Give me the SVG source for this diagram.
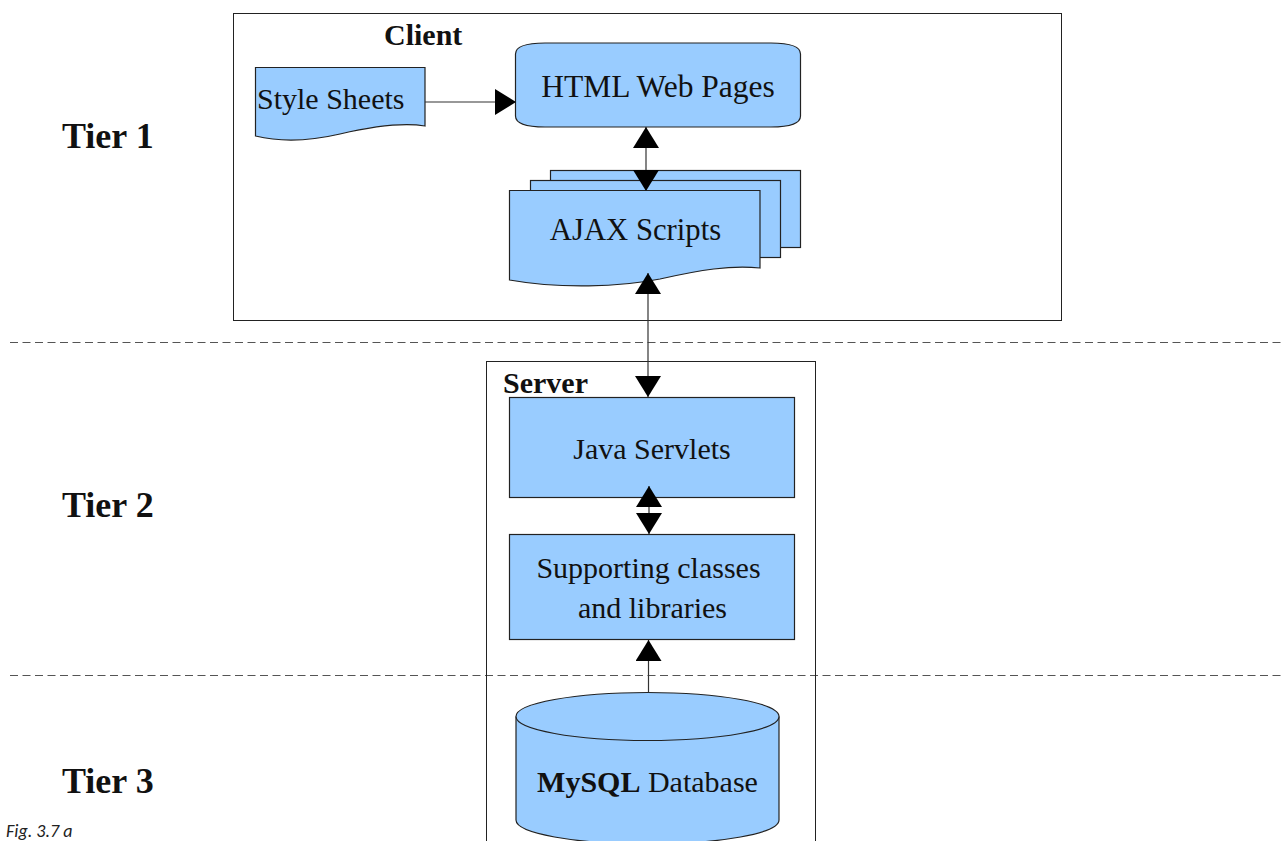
<svg xmlns="http://www.w3.org/2000/svg" width="1285" height="841" viewBox="0 0 1285 841">
<style>
.shape{fill:#99ccff;stroke:#222;stroke-width:1.2}
.frame{fill:none;stroke:#222;stroke-width:1}
.t{font-family:"Liberation Serif","Times New Roman",serif;font-size:30px;fill:#111}
.b{font-weight:bold}
.tier{font-family:"Liberation Serif","Times New Roman",serif;font-size:36px;font-weight:bold;fill:#111}
.dash{stroke:#555;stroke-width:1.2;stroke-dasharray:8 4.5;fill:none}
.conn{stroke:#333;stroke-width:1.2;fill:none}
</style>
<defs>
<marker id="ah" markerUnits="userSpaceOnUse" markerWidth="22" markerHeight="26" refX="21" refY="13" orient="auto-start-reverse">
<path d="M0,0 L21,13 L0,26 Z" fill="#000"/>
</marker>
</defs>
<rect width="1285" height="841" fill="#fff"/>

<g id="separators">
<line class="dash" x1="10" y1="342.5" x2="1285" y2="342.5"/>
<line class="dash" x1="10" y1="675.5" x2="1285" y2="675.5"/>
</g>

<g id="tiers">
<text class="tier" x="62" y="148">Tier 1</text>
<text class="tier" x="62" y="517">Tier 2</text>
<text class="tier" x="62" y="793">Tier 3</text>
</g>

<g id="client">
<rect class="frame" x="233.5" y="13.5" width="828" height="307"/>
<text class="t b" x="384" y="45">Client</text>
</g>

<g id="server">
<rect class="frame" x="486.5" y="361.5" width="329" height="500"/>
<text class="t b" x="503" y="393">Server</text>
</g>

<g id="style-sheets">
<path class="shape" d="M255.5,67.5 H425 V126 C400,122 370,127 340,134 C310,141 280,142 255.5,136 Z"/>
<text class="t" x="257" y="109">Style Sheets</text>
</g>

<g id="html-pages">
<path class="shape" d="M515.5,54 C515.5,46 528,43 545,43 H771 C788,43 800.5,46 800.5,54 V116 C800.5,124 788,127 771,127 H545 C528,127 515.5,124 515.5,116 Z"/>
<text class="t" x="658" y="97" text-anchor="middle" style="font-size:31.5px">HTML Web Pages</text>
</g>

<g id="ajax-scripts">
<rect class="shape" x="550.5" y="170.5" width="250" height="77"/>
<rect class="shape" x="530.5" y="180.5" width="250" height="77"/>
<path class="shape" d="M509.5,190.5 H760 V268 C730,265 700,270 660,279 C620,287 560,289 509.5,280 Z"/>
<text class="t" x="635.5" y="240" text-anchor="middle" style="font-size:30.7px">AJAX Scripts</text>
</g>

<g id="java-servlets">
<rect class="shape" x="509.5" y="397.5" width="285" height="100"/>
<text class="t" x="652" y="459" text-anchor="middle">Java Servlets</text>
</g>

<g id="supporting">
<rect class="shape" x="509.5" y="534.5" width="285" height="105"/>
<text class="t" x="648.5" y="578" text-anchor="middle">Supporting classes</text>
<text class="t" x="652.5" y="618" text-anchor="middle">and libraries</text>
</g>

<g id="database">
<path class="shape" d="M516,716.5 V820 A131.5,24 0 0 0 779,820 V716.5"/>
<ellipse class="shape" cx="647.5" cy="716.5" rx="131.5" ry="24"/>
<text class="t" x="647.5" y="792" text-anchor="middle"><tspan class="b">MySQL</tspan> Database</text>
</g>

<g id="connectors">
<line class="conn" x1="425" y1="102" x2="516" y2="102" marker-end="url(#ah)"/>
<line class="conn" x1="646" y1="127" x2="646" y2="191" marker-start="url(#ah)" marker-end="url(#ah)"/>
<line class="conn" x1="648" y1="273" x2="648" y2="397" marker-start="url(#ah)" marker-end="url(#ah)"/>
<line class="conn" x1="649" y1="486" x2="649" y2="534" marker-start="url(#ah)" marker-end="url(#ah)"/>
<line class="conn" x1="648.5" y1="692.5" x2="648.5" y2="640" marker-end="url(#ah)"/>
</g>

<text x="6" y="837" font-family="Carlito,'Liberation Sans',sans-serif" font-style="italic" font-size="18" fill="#222">Fig. 3.7 a</text>
</svg>
